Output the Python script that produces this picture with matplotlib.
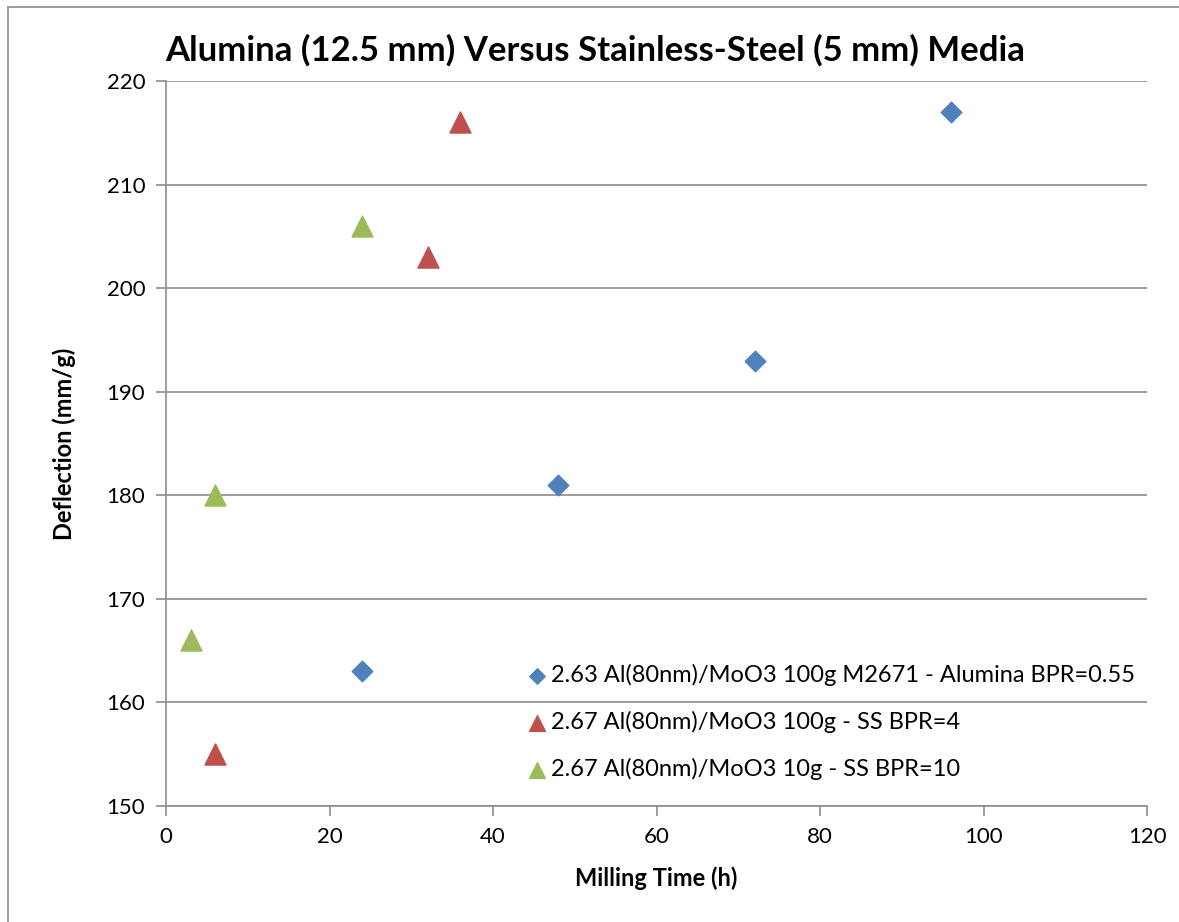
import matplotlib.pyplot as plt
from matplotlib.patches import Rectangle

# Data
alumina_t = [24, 48, 72, 96]
alumina_d = [163, 181, 193, 217]
ss100_t = [6, 32, 36]
ss100_d = [155, 203, 216]
ss10_t = [3, 6, 24]
ss10_d = [166, 180, 206]

labels = [
    "2.63 Al(80nm)/MoO3 100g M2671 - Alumina BPR=0.55",
    "2.67 Al(80nm)/MoO3 100g - SS BPR=4",
    "2.67 Al(80nm)/MoO3 10g - SS BPR=10",
]

plt.rcParams['font.family'] = ['Lato', 'DejaVu Sans']

fig = plt.figure(figsize=(11.79, 9.22), dpi=100)
ax = fig.add_axes([0.1408, 0.1258, 0.8321, 0.7863])

# outer chart-area border
fig.patches.append(Rectangle((0.007, -0.01), 1.2, 1.002, transform=fig.transFigure,
                             fill=False, edgecolor='#8c8c8c', linewidth=1.2))

ax.scatter(alumina_t, alumina_d, marker='D', s=110, color='#4F81BD', label=labels[0], zorder=3)
ax.scatter(ss100_t, ss100_d, marker='^', s=230, color='#C0504D', label=labels[1], zorder=3)
ax.scatter(ss10_t, ss10_d, marker='^', s=230, color='#9BBB59', label=labels[2], zorder=3)

ax.set_xlim(0, 120)
ax.set_ylim(150, 220)
ax.set_xticks(range(0, 121, 20))
ax.set_yticks(range(150, 221, 10))
ax.yaxis.grid(True, color='#8c8c8c', linewidth=1.2)
ax.set_axisbelow(True)

for s in ['top', 'right']:
    ax.spines[s].set_visible(False)
for s in ['left', 'bottom']:
    ax.spines[s].set_color('#8c8c8c')
    ax.spines[s].set_linewidth(1.2)
ax.tick_params(axis='both', direction='out', color='#8c8c8c', length=7, width=1.2,
               labelsize=16, pad=8)

ax.set_xlabel('Milling Time (h)', fontsize=17, fontweight='bold', labelpad=14)
ax.set_ylabel('Deflection (mm/g)', fontsize=17, fontweight='bold', labelpad=22)
fig.text(0.14, 0.945, 'Alumina (12.5 mm) Versus Stainless-Steel (5 mm) Media',
         fontsize=25, fontweight='bold', ha='left', va='center')

ax.legend(loc='lower right', bbox_to_anchor=(1.0, 0.02), frameon=False, fontsize=17,
          handletextpad=0.1, labelspacing=1.05, markerscale=0.75, handlelength=1.0,
          borderaxespad=0.1)

fig.savefig('out.png', dpi=100)
